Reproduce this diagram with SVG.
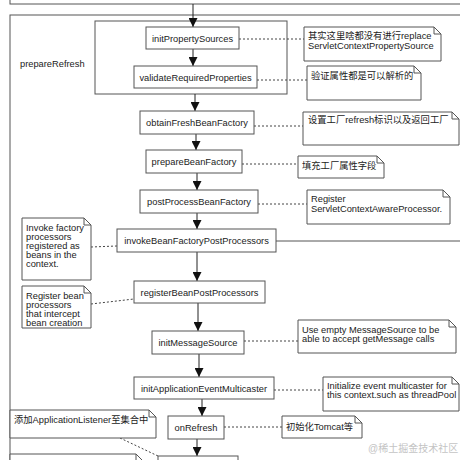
<svg xmlns="http://www.w3.org/2000/svg" width="460" height="460" viewBox="0 0 460 460">
<defs>
<style>
.box{fill:#fff;stroke:#555;stroke-width:1}
.frame{fill:none;stroke:#555;stroke-width:1}
.note{fill:#fff;stroke:#555;stroke-width:1}
.fold{fill:none;stroke:#555;stroke-width:1}
.t{font-family:"Liberation Sans","Noto Sans CJK SC",sans-serif;font-size:9.3px;fill:#222}
.c{text-anchor:middle}
.arrow{stroke:#222;stroke-width:1;fill:none;marker-end:url(#ah)}
.solid{stroke:#555;stroke-width:1;fill:none}
.dash{stroke:#444;stroke-width:1;fill:none;stroke-dasharray:2,2}
.wm{font-family:"Liberation Sans","Noto Sans CJK SC",sans-serif;font-size:10px;fill:#c4c4c4}
</style>
<marker id="ah" markerUnits="userSpaceOnUse" markerWidth="9" markerHeight="9" refX="9" refY="4.5" orient="auto">
<path d="M0,0 L9,4.5 L0,9 Z" fill="#111"/>
</marker>
</defs>
<rect width="460" height="460" fill="#fff"/>

<g id="top"><rect class="box" x="10" y="-20" width="470" height="24"/></g>
<g id="prepareRefresh">
<rect class="frame" x="10" y="15" width="470" height="470"/>
<text class="t" x="20" y="67">prepareRefresh</text>
</g>
<g id="group1"><rect class="frame" x="95" y="21" width="192" height="73"/></g>

<g id="connectors">
<path class="arrow" d="M193,4 V27"/>
<path class="arrow" d="M193,49 V66"/>
<path class="arrow" d="M195,94 V111"/>
<path class="arrow" d="M196,134 V150"/>
<path class="arrow" d="M197,173 V190"/>
<path class="arrow" d="M197,213 V229"/>
<path class="arrow" d="M197,252 V281"/>
<path class="arrow" d="M198,303 V331"/>
<path class="arrow" d="M199,354 V377"/>
<path class="arrow" d="M202,399 V416"/>
<path class="arrow" d="M197,439 V456"/>
<path class="solid" d="M276,241 H460"/>
<path class="dash" d="M239,39 H304"/>
<path class="dash" d="M257,80 H307"/>
<path class="dash" d="M254,126 H303"/>
<path class="dash" d="M242,164 H298"/>
<path class="dash" d="M258,204 H307"/>
<path class="dash" d="M91,247 L117,246"/>
<path class="dash" d="M91,304 L134,299"/>
<path class="dash" d="M244,341 H298"/>
<path class="dash" d="M274,390 H323"/>
<path class="dash" d="M224,427 H282"/>
<path class="dash" d="M120,438 L158,456"/>
</g>

<g id="initPropertySources"><rect class="box" x="146" y="27" width="93" height="22"/><text class="t c" x="192.5" y="41.5">initPropertySources</text></g>
<g id="validateRequiredProperties"><rect class="box" x="134" y="66" width="123" height="22"/><text class="t c" x="195.5" y="80.5">validateRequiredProperties</text></g>
<g id="obtainFreshBeanFactory"><rect class="box" x="140" y="111" width="114" height="23"/><text class="t c" x="197" y="126">obtainFreshBeanFactory</text></g>
<g id="prepareBeanFactory"><rect class="box" x="146" y="150" width="96" height="23"/><text class="t c" x="194" y="165">prepareBeanFactory</text></g>
<g id="postProcessBeanFactory"><rect class="box" x="140" y="190" width="118" height="23"/><text class="t c" x="199" y="205">postProcessBeanFactory</text></g>
<g id="invokeBeanFactoryPostProcessors"><rect class="box" x="117" y="229" width="159" height="23"/><text class="t c" x="196.5" y="244">invokeBeanFactoryPostProcessors</text></g>
<g id="registerBeanPostProcessors"><rect class="box" x="134" y="281" width="131" height="22"/><text class="t c" x="199.5" y="295.5">registerBeanPostProcessors</text></g>
<g id="initMessageSource"><rect class="box" x="152" y="331" width="92" height="23"/><text class="t c" x="198" y="346">initMessageSource</text></g>
<g id="initApplicationEventMulticaster"><rect class="box" x="134" y="377" width="140" height="22"/><text class="t c" x="204" y="391.5">initApplicationEventMulticaster</text></g>
<g id="onRefresh"><rect class="box" x="168" y="416" width="56" height="23"/><text class="t c" x="196" y="431">onRefresh</text></g>
<g id="nextStep"><rect class="box" x="158" y="456" width="80" height="20"/></g>

<g id="note1"><path class="note" d="M304,27 H434 L441,34 V61 H304 Z"/><path class="fold" d="M434,27 V34 H441"/>
<text class="t" x="308" y="39">其实这里啥都没有进行replace</text><text class="t" x="308" y="49">ServletContextPropertySource</text></g>
<g id="note2"><path class="note" d="M307,66 H414 L421,73 V100 H307 Z"/><path class="fold" d="M414,66 V73 H421"/>
<text class="t" x="311" y="79">验证属性都是可以解析的</text></g>
<g id="note3"><path class="note" d="M303,112 H452 L459,119 V145 H303 Z"/><path class="fold" d="M452,112 V119 H459"/>
<text class="t" x="308" y="123">设置工厂refresh标识以及返回工厂</text></g>
<g id="note4"><path class="note" d="M298,156 H377 L384,163 V178 H298 Z"/><path class="fold" d="M377,156 V163 H384"/>
<text class="t" x="302" y="169">填充工厂属性字段</text></g>
<g id="note5"><path class="note" d="M307,190 H443 L450,197 V224 H307 Z"/><path class="fold" d="M443,190 V197 H450"/>
<text class="t" x="311" y="202">Register</text><text class="t" x="311" y="212">ServletContextAwareProcessor.</text></g>
<g id="note6"><path class="note" d="M22,218 H84 L91,225 V280 H22 Z"/><path class="fold" d="M84,218 V225 H91"/>
<text class="t" x="26" y="231">Invoke factory</text><text class="t" x="26" y="240">processors</text><text class="t" x="26" y="249">registered as</text><text class="t" x="26" y="258">beans in the</text><text class="t" x="26" y="267">context.</text></g>
<g id="note7"><path class="note" d="M22,286 H84 L91,293 V328 H22 Z"/><path class="fold" d="M84,286 V293 H91"/>
<text class="t" x="26" y="299">Register bean</text><text class="t" x="26" y="308">processors</text><text class="t" x="26" y="317">that intercept</text><text class="t" x="26" y="326">bean creation</text></g>
<g id="note8"><path class="note" d="M298,320 H449 L456,327 V353 H298 Z"/><path class="fold" d="M449,320 V327 H456"/>
<text class="t" x="302" y="333">Use empty MessageSource to be</text><text class="t" x="302" y="342">able to accept getMessage calls</text></g>
<g id="note9"><path class="note" d="M323,377 H452 L459,384 V411 H323 Z"/><path class="fold" d="M452,377 V384 H459"/>
<text class="t" x="327" y="389">Initialize event multicaster for</text><text class="t" x="327" y="398">this context.such as threadPool</text></g>
<g id="note10"><path class="note" d="M282,416 H355 L362,423 V438 H282 Z"/><path class="fold" d="M355,416 V423 H362"/>
<text class="t" x="286" y="430">初始化Tomcat等</text></g>
<g id="note11"><path class="note" d="M10,410 H149 L156,417 V438 H10 Z"/><path class="fold" d="M149,410 V417 H156"/>
<text class="t" x="14" y="423">添加ApplicationListener至集合中</text></g>
<g id="note12"><path class="note" d="M10,454 H136 L143,461 V480 H10 Z"/><path class="fold" d="M136,454 V461 H143"/></g>

<text class="wm" x="368" y="452">@稀土掘金技术社区</text>
</svg>
